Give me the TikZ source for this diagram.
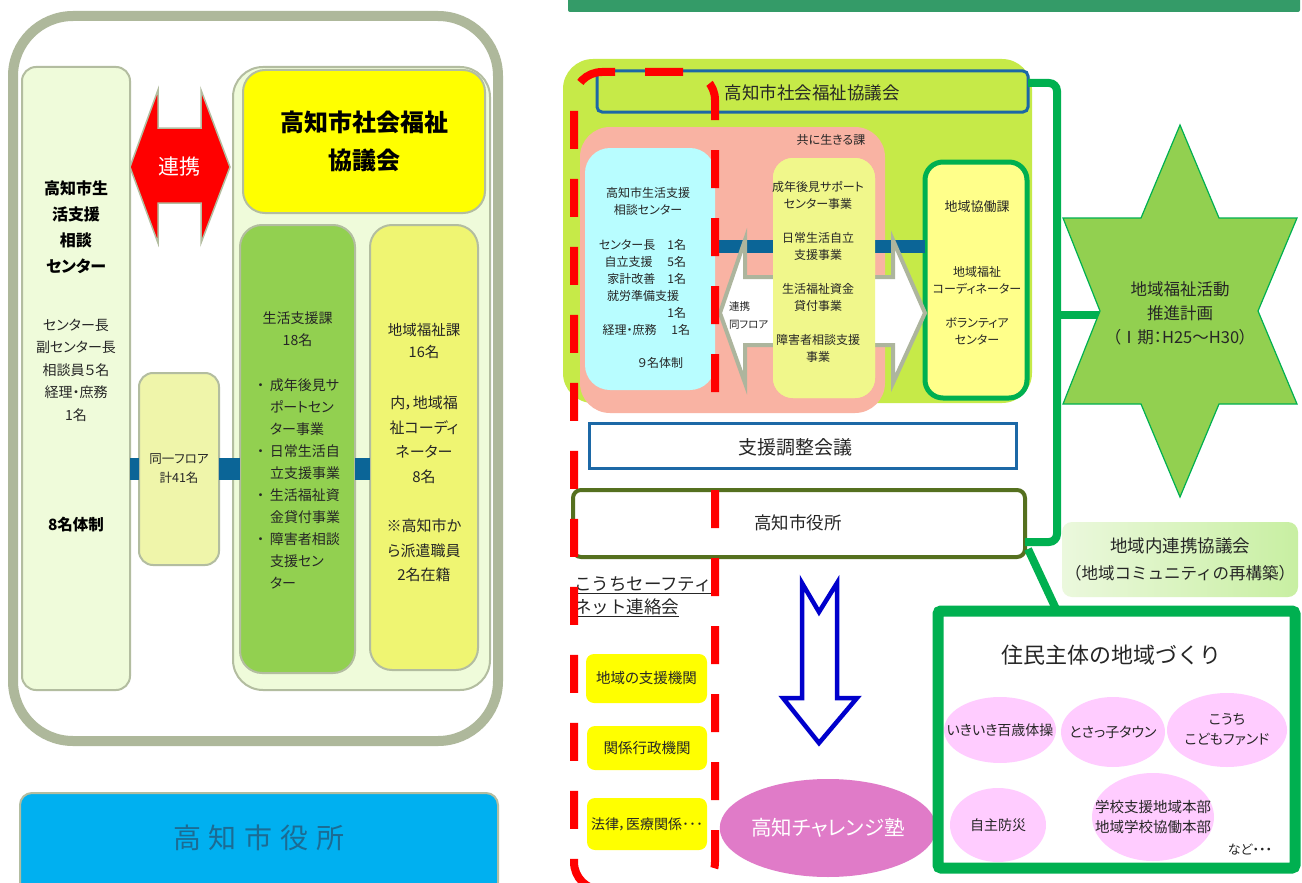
\documentclass[tikz,border=0pt]{standalone}
\usepackage{fontspec}
\setmainfont{Noto Sans CJK JP}[RawFeature={+palt}]
\newfontfamily\fullw{Noto Sans CJK JP}
\usetikzlibrary{shapes.geometric}
\definecolor{outerGray}{HTML}{AEB89B}
\definecolor{edgeGray}{HTML}{B3BDA0}
\definecolor{paleGreen}{HTML}{EFFBDA}
\definecolor{boxGreen}{HTML}{92D050}
\definecolor{boxYG}{HTML}{EFF572}
\definecolor{floorY}{HTML}{EFF5AA}
\definecolor{barBlue}{HTML}{0B6597}
\definecolor{sky}{HTML}{00B0F0}
\definecolor{skyText}{HTML}{1C6B93}
\definecolor{topBar}{HTML}{349B68}
\definecolor{lime}{HTML}{C6EA48}
\definecolor{salmon}{HTML}{F9B3A3}
\definecolor{paleCyan}{HTML}{B8FDFF}
\definecolor{midY}{HTML}{F0F78B}
\definecolor{kyoY}{HTML}{FFFF8A}
\definecolor{gLine}{HTML}{00B050}
\definecolor{frameBlue}{HTML}{1C68A6}
\definecolor{olive}{HTML}{55701F}
\definecolor{arrBlue}{HTML}{0000CC}
\definecolor{magentaE}{HTML}{E07BC8}
\definecolor{pinkE}{HTML}{FFCCFF}
\definecolor{bandL}{HTML}{EBF8DD}
\definecolor{bandR}{HTML}{C8EFA2}
\definecolor{txtc}{HTML}{262626}
\definecolor{arrGray}{HTML}{ADB59D}
\definecolor{pureY}{HTML}{FFFF00}
\newcommand\fs[2]{\fontsize{#1pt}{#2pt}\selectfont}
\newcommand\bulmark{\makebox[13pt][l]{・}}
\newcommand\indnt{\hspace*{13pt}}
\tikzset{
  every node/.style={inner sep=0pt, outer sep=0pt, text=txtc},
  pbox/.style={draw=edgeGray, line width=2pt, rectangle},
  lbl/.style={align=center},
}
\begin{document}
\begin{tikzpicture}[x=1pt,y=-1pt]
\useasboundingbox (0,0) rectangle (1302,883);
\clip (0,0) rectangle (1302,883);
\fill[white] (0,0) rectangle (1302,883);

%================ LEFT ================
\node[draw=outerGray, line width=10pt, rounded corners=60pt, minimum width=485pt, minimum height=725pt] (outer) at (255.5,378.5) {};
\node[pbox, fill=paleGreen, rounded corners=14pt, minimum width=108pt, minimum height=623pt] (lc) at (76,378.5) {};
\node[pbox, fill=paleGreen, rounded corners=30pt, minimum width=257pt, minimum height=623pt] (grp) at (361.5,378.5) {};
\node[pbox, fill=pureY, rounded corners=22pt, minimum width=242pt, minimum height=143pt] (shk) at (364,141.5) {};
\node[pbox, fill=boxGreen, rounded corners=22pt, minimum width=115pt, minimum height=448pt] (sk) at (297.5,449) {};
\node[pbox, fill=boxYG, rounded corners=22pt, minimum width=108pt, minimum height=445pt] (cw) at (424,447.5) {};
\node[pbox, fill=floorY, rounded corners=14pt, minimum width=80pt, minimum height=192pt] (floor) at (179,469) {};

% blue connecting bars
\draw[barBlue, line width=22pt] (lc.east |- floor.center) -- (floor.west);
\draw[barBlue, line width=22pt] (floor.east) -- (sk.west |- floor.east);
\draw[barBlue, line width=22pt] (sk.east |- floor.east) -- (cw.west |- floor.east);

% red double arrow
\draw[fill=red, draw=edgeGray, line width=1.5pt] (130,167) -- (158,90) -- (158,128) -- (201,128) -- (201,90) -- (230,167) -- (201,243) -- (201,203) -- (158,203) -- (158,243) -- cycle;
\node[text=white, font=\fs{21}{24}] (renkei) at (179,167) {連携};

% texts
\node[lbl, font=\fs{16}{26}\bfseries, text=black] (lct1) at (76,227.5) {高知市生\\活支援\\相談\\センター};
\node[lbl, font=\fs{14}{22.5}] (lct2) at (76,370) {センター長\\副センター長\\相談員５名\\経理・庶務\\1名};
\node[lbl, font=\fs{15.5}{20}\bfseries, text=black] (lct3) at (76,525) {8名体制};
\node[lbl, font=\fs{24}{38}\bfseries, text=black] (shkt) at (364,141) {高知市社会福祉\\協議会};
\node[lbl, font=\fs{14}{22}] (skt1) at (297.5,329) {生活支援課\\18名};
\node[align=left, anchor=west, font=\fs{14}{22}] (skt2) at (257,484) {\bulmark 成年後見サ\\\indnt ポートセン\\\indnt ター事業\\\bulmark 日常生活自\\\indnt 立支援事業\\\bulmark 生活福祉資\\\indnt 金貸付事業\\\bulmark 障害者相談\\\indnt 支援セン\\\indnt ター};
\node[lbl, font=\fs{14.5}{22}] (cwt1) at (424,341) {地域福祉課\\16名};
\node[lbl, font=\fs{15}{24.6}] (cwt2) at (424,489) {内，地域福\\祉コーディ\\ネーター\\8名\\\mbox{}\\※高知市か\\ら派遣職員\\2名在籍};
\node[lbl, font=\fs{12.5}{19}] (floort) at (179,469) {同一フロア\\計41名};

% bottom city office
\node[pbox, fill=sky, rounded corners=12pt, minimum width=478pt, minimum height=107pt] (city) at (259,846.5) {};
\node[text=skyText, font=\fs{28}{30}] (cityt) at (259,838) {高\hspace{8pt}知\hspace{8pt}市\hspace{8pt}役\hspace{8pt}所};

%================ RIGHT ================
\fill[topBar, rounded corners=2pt] (568,-5) rectangle (1300,12);
\node[fill=lime, rounded corners=30pt, minimum width=469pt, minimum height=344pt] (lime) at (797.5,231) {};
\node[fill=salmon, rounded corners=30pt, minimum width=305pt, minimum height=286pt] (salmon) at (732.5,270) {};
\node[draw=frameBlue, line width=3pt, rounded corners=5pt, minimum width=431pt, minimum height=41pt] (shkR) at (812.5,91.5) {};
\node[font=\fs{17.5}{20}] (shkRt) at (812,93) {高知市社会福祉協議会};
\node[fill=paleCyan, rounded corners=25pt, minimum width=130pt, minimum height=242pt] (cyan) at (650,269) {};
\node[fill=midY, rounded corners=20pt, minimum width=102pt, minimum height=240pt] (midy) at (824,278) {};
\node[draw=gLine, line width=5pt, fill=kyoY, rounded corners=18pt, minimum width=102pt, minimum height=236pt] (kyo) at (976,280) {};

% bar and double arrow
\draw[barBlue, line width=13pt] (cyan.east |- 0,246.5) -- (midy.west |- 0,246.5);
\draw[barBlue, line width=13pt] (midy.east |- 0,246.5) -- (kyo.west |- 0,246.5);
\draw[fill=white, draw=arrGray, line width=4pt, line join=miter] (720,313) -- (745,240) -- (745,277) -- (893,277) -- (893,240) -- (925,313) -- (893,383) -- (893,345) -- (745,345) -- (745,383) -- cycle;
\node[fill=midY, rounded corners=20pt, minimum width=102pt, minimum height=240pt] (midy2) at (824,278) {};
\node[align=left, anchor=west, font=\fs{10.5}{18}] (renkei2) at (729,316) {連携\\同フロア};

\node[font=\fs{12}{14}] (tomoni) at (831,140) {共に生きる課};
\node[lbl, font=\fs{12}{17}] (cyt1) at (648,201.5) {高知市生活支援\\相談センター};
\node[anchor=east, font=\fs{12}{14}] (cy1) at (686,245) {センター長　1名};
\node[anchor=east, font=\fs{12}{14}] (cy2) at (686,262) {自立支援　 5名};
\node[anchor=east, font=\fs{12}{14}] (cy3) at (686,279) {家計改善　1名};
\node[anchor=west, font=\fs{12}{14}] (cy4) at (607,296) {就労準備支援};
\node[anchor=east, font=\fs{12}{14}] (cy5) at (686,313) {1名};
\node[anchor=east, font=\fs{12}{14}] (cy6) at (690,330) {経理・庶務　 1名};
\node[anchor=east, font=\fs{12}{14}] (cy7) at (683,363) {９名体制};
\node[lbl, font=\fs{12}{17}] (midt) at (818,272) {成年後見サポート\\センター事業\\\mbox{}\\日常生活自立\\支援事業\\\mbox{}\\生活福祉資金\\貸付事業\\\mbox{}\\障害者相談支援\\事業};
\node[font=\fs{13}{15}] (kyot1) at (977,207) {地域協働課};
\node[lbl, font=\fs{12}{17}] (kyot2) at (977,306) {地域福祉\\コーディネーター\\\mbox{}\\ボランティア\\センター};

% city office (right) and safety net text
\node[draw=olive, line width=4pt, fill=white, rounded corners=8pt, minimum width=452pt, minimum height=67pt] (yakR) at (799,523.5) {};
\node[font=\fs{17.5}{20}] (yakRt) at (798,523) {高知市役所};
\node[align=left, anchor=west, font=\fullw\fs{17.5}{23}] (safety) at (574,596.5) {\underline{こうちセーフティ}\\\underline{ネット連絡会}};

% red dashed outline
\draw[red, line width=8pt, dash pattern=on 38pt off 30pt, dash phase=45pt, rounded corners=28pt] (644,890) -- (574,890) -- (574,72) -- (715,72) -- (715,890) -- cycle;

\node[draw=frameBlue, line width=3pt, fill=white, minimum width=427pt, minimum height=45pt] (shien) at (802.5,445.5) {};
\node[font=\fs{19}{22}] (shient) at (795,447) {支援調整会議};

% yellow boxes
\node[fill=pureY, rounded corners=8pt, minimum width=121pt, minimum height=49pt, font=\fs{14.5}{16}] (y1) at (646.5,678.5) {地域の支援機関};
\node[fill=pureY, rounded corners=8pt, minimum width=120pt, minimum height=44pt, font=\fs{14.5}{16}] (y2) at (647,748) {関係行政機関};
\node[fill=pureY, rounded corners=8pt, minimum width=120pt, minimum height=52pt, font=\fs{14}{16}] (y3) at (647,824) {法律，医療関係･･･};

% blue hollow down arrow
\draw[draw=arrBlue, fill=white, line width=4.5pt, line join=miter] (802,583) -- (819,612) -- (837,583) -- (837,698) -- (857,698) -- (819,743) -- (783,698) -- (802,698) -- cycle;
\node[ellipse, fill=magentaE, minimum width=208pt, minimum height=98pt, text=white, font=\fs{20.5}{22}] (juku) at (828,828) {高知チャレンジ塾};

% green bracket, star
\draw[gLine, line width=8pt, rounded corners=8pt] (shkR.east |- 0,83) -- (1057,83) -- (1057,542) -- (yakR.east |- 0,542);
\draw[gLine, line width=8pt] (1057,315) -- (1099,315);
\draw[draw=gLine, fill=boxGreen, line width=1.2pt] (1180,125) -- (1219,218) -- (1297,218) -- (1258,311) -- (1297,404) -- (1219,404) -- (1180,497) -- (1141,404) -- (1063,404) -- (1100,311) -- (1063,218) -- (1141,218) -- cycle;
\node[lbl, font=\fs{16.5}{24}] (start) at (1180,313) {地域福祉活動\\推進計画\\（Ⅰ期：H25～H30）};

% residents frame
\draw[gLine, line width=8pt] (1028,549) -- (1056,609);
\draw[gLine, line width=11pt, rounded corners=3pt] (938,611) rectangle (1295,868);
\node[left color=bandL, right color=bandR, rounded corners=10pt, minimum width=236pt, minimum height=75pt] (band) at (1180,559.5) {};
\node[lbl, font=\fs{17.5}{27}] (bandt) at (1180,559.5) {地域内連携協議会\\{\fullw\fs{16.5}{27}（地域コミュニティの再構築）}};
\node[font=\fullw\fs{22}{24}] (jumin) at (1111,655) {住民主体の地域づくり};

\node[ellipse, fill=pinkE, minimum width=112pt, minimum height=66pt] (e1) at (1000,730) {};
\node[font=\fs{14}{16}] (e1t) at (1000,730) {いきいき百歳体操};
\node[ellipse, fill=pinkE, minimum width=104pt, minimum height=70pt] (e2) at (1113,732) {};
\node[font=\fs{14}{16}] (e2t) at (1113,732) {とさっ子タウン};
\node[ellipse, fill=pinkE, minimum width=112pt, minimum height=74pt, lbl, font=\fs{14}{20}] (e3) at (1227,730) {こうち\\こどもファンド};
\node[ellipse, fill=pinkE, minimum width=96pt, minimum height=74pt, font=\fs{14}{16}] (e4) at (998,825) {自主防災};
\node[ellipse, fill=pinkE, minimum width=122pt, minimum height=88pt] (e5) at (1153,817) {};
\node[lbl, font=\fs{14.5}{20}] (e5t) at (1153,817) {学校支援地域本部\\地域学校協働本部};
\node[font=\fs{13}{15}] (nado) at (1250,850) {など・・・};
\end{tikzpicture}
\end{document}
